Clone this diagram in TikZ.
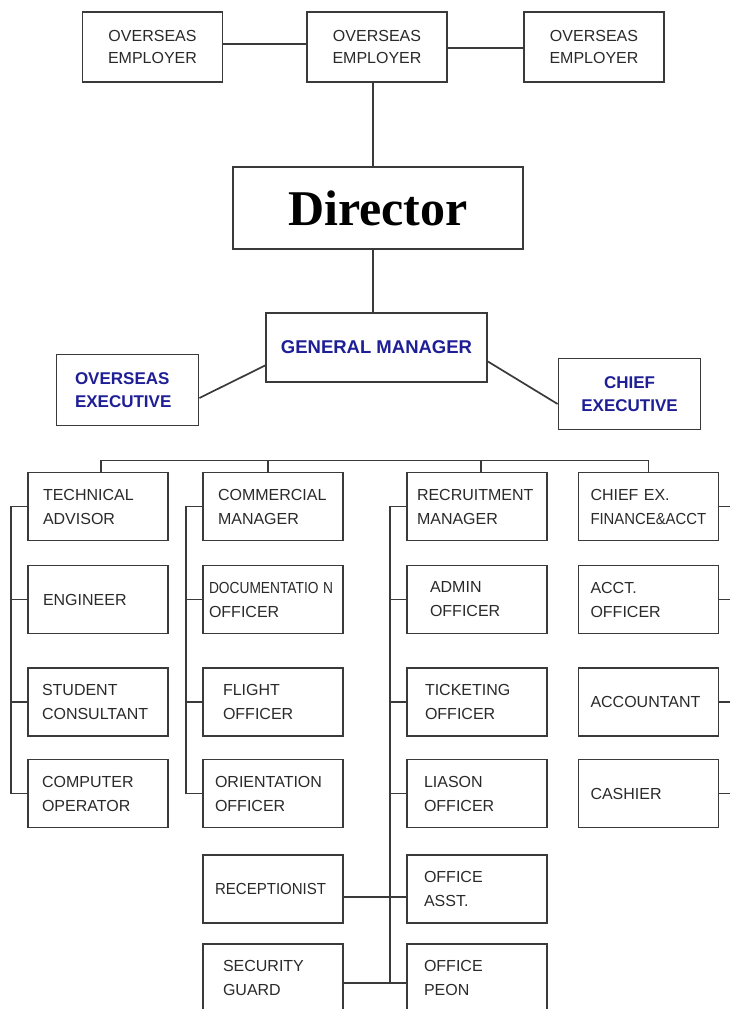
\documentclass[tikz,border=0pt]{standalone}
\usepackage{fontspec}
\usepackage{xcolor}
\usepackage{graphicx}
\setmainfont{Liberation Sans}
\newfontfamily\dirfont{Liberation Serif}
\definecolor{BoxGrey}{HTML}{3A3A3A}
\definecolor{TextGrey}{HTML}{2A2A2A}
\definecolor{DeepBlue}{HTML}{1E1E96}

\begin{document}
\begin{tikzpicture}[x=1pt, y=-1pt,
    box/.style={draw=BoxGrey, line width=1.8pt, fill=white, inner sep=0pt},
    employer/.style={box, minimum width=140pt, minimum height=70pt, align=center,
      text=TextGrey, font=\fontsize{16}{22}\selectfont},
    exec/.style={box, minimum width=142pt, minimum height=71pt,
      text=DeepBlue, font=\fontsize{17}{23}\selectfont\bfseries},
    unit/.style={box, minimum width=140pt, minimum height=68pt, text width=110pt,
      align=left, text=TextGrey, font=\fontsize{16}{24}\selectfont},
    link/.style={draw=BoxGrey, line width=1.7pt}]

  \useasboundingbox (0,0) rectangle (729,1009);

  \node[employer] (emp1) at (152.5,47) {OVERSEAS\\EMPLOYER};
  \node[employer] (emp2) at (377,47) {OVERSEAS\\EMPLOYER};
  \node[employer] (emp3) at (594,47) {OVERSEAS\\EMPLOYER};

  \node[box, minimum width=290pt, minimum height=82pt,
        font=\dirfont\fontsize{50}{56}\selectfont\bfseries] (dir) at (378,208) {Director};

  \node[box, minimum width=221pt, minimum height=69pt, text=DeepBlue,
        font=\fontsize{18.5}{24}\selectfont\bfseries] (gm) at (376.5,347.5) {GENERAL MANAGER};
  \node[exec, text width=105pt, align=left] (oe) at (127.5,390) {OVERSEAS\\EXECUTIVE};
  \node[exec, align=center] (ce) at (629.5,394) {CHIEF\\EXECUTIVE};

  \node[unit] (tech) at (98,506.5) {TECHNICAL\\ADVISOR};
  \node[unit] (eng) at (98,599.5) {ENGINEER};
  \node[unit, text width=112pt] (stud) at (98,702) {STUDENT\\CONSULTANT};
  \node[unit, text width=112pt] (comp) at (98,793.5) {COMPUTER\\OPERATOR};

  \node[unit] (comm) at (273,506.5) {COMMERCIAL\\MANAGER};
  \node[unit, text width=128pt] (doc) at (273,599.5) {\scalebox{0.86}[1]{DOCUMENTATIO N}\\OFFICER};
  \node[unit, text width=100pt] (flt) at (273,702) {FLIGHT\\OFFICER};
  \node[unit, text width=116pt] (ori) at (273,793.5) {ORIENTATION\\OFFICER};
  \node[unit, text width=116pt] (recp) at (273,889) {\scalebox{0.94}[1]{RECEPTIONIST}};
  \node[unit, text width=100pt] (guard) at (273,978) {SECURITY\\GUARD};

  \node[unit, text width=120pt] (recm) at (477,506.5) {RECRUITMENT\\MANAGER};
  \node[unit, text width=94pt] (adm) at (477,599.5) {ADMIN\\OFFICER};
  \node[unit, text width=104pt] (tkt) at (477,702) {TICKETING\\OFFICER};
  \node[unit, text width=106pt] (lia) at (477,793.5) {LIASON\\OFFICER};
  \node[unit, text width=106pt] (asst) at (477,889) {OFFICE\\ASST.};
  \node[unit, text width=106pt] (peon) at (477,978) {OFFICE\\PEON};

  \node[unit, text width=116pt] (cfo) at (648.5,506.5) {CHIEF EX.\\\scalebox{0.93}[1]{FINANCE\&ACCT}};
  \node[unit, text width=116pt] (acof) at (648.5,599.5) {ACCT.\\OFFICER};
  \node[unit, text width=116pt] (acnt) at (648.5,702) {ACCOUNTANT};
  \node[unit, text width=116pt] (cash) at (648.5,793.5) {CASHIER};

  \draw[link] ([yshift=3pt]emp1.east) -- ([yshift=3pt]emp2.west);
  \draw[link] ([yshift=-1pt]emp2.east) -- ([yshift=-1pt]emp3.west);
  \draw[link] ([xshift=-4pt]emp2.south) -- ([xshift=-4pt]emp2.south |- dir.north);
  \draw[link] ([xshift=-5pt]dir.south) -- ([xshift=-5pt]dir.south |- gm.north);
  \draw[link] ([yshift=-8pt]oe.east) -- ([yshift=-18pt]gm.west);
  \draw[link] ([yshift=-14pt]gm.east) -- ([yshift=-10pt]ce.west);

  \draw[link] ([xshift=3pt]tech.north) -- ++(0,-11) -| (cfo.north);
  \draw[link] ([xshift=-5pt]comm.north) -- ++(0,-11);
  \draw[link] ([xshift=4pt]recm.north) -- ++(0,-11);

  \draw[link] (tech.west) -| ([xshift=-16pt]comp.west) -- (comp.west);
  \foreach \n in {eng,stud} \draw[link] (\n.west) -- ++(-16,0);
  \draw[link] (comm.west) -| ([xshift=-16pt]ori.west) -- (ori.west);
  \foreach \n in {doc,flt} \draw[link] (\n.west) -- ++(-16,0);
  \draw[link] (recm.west) -| ([xshift=-16pt,yshift=-5pt]peon.west) -- ([yshift=-5pt]peon.west);
  \foreach \n in {adm,tkt,lia} \draw[link] (\n.west) -- ++(-16,0);
  \draw[link] ([yshift=-8pt]recp.east) -- ([yshift=-8pt]asst.west);
  \draw[link] ([yshift=-5pt]guard.east) -- ([yshift=-5pt]peon.west);
  \foreach \n in {cfo,acof,acnt,cash} \draw[link] (\n.east) -- ++(16,0);
\end{tikzpicture}
\end{document}
